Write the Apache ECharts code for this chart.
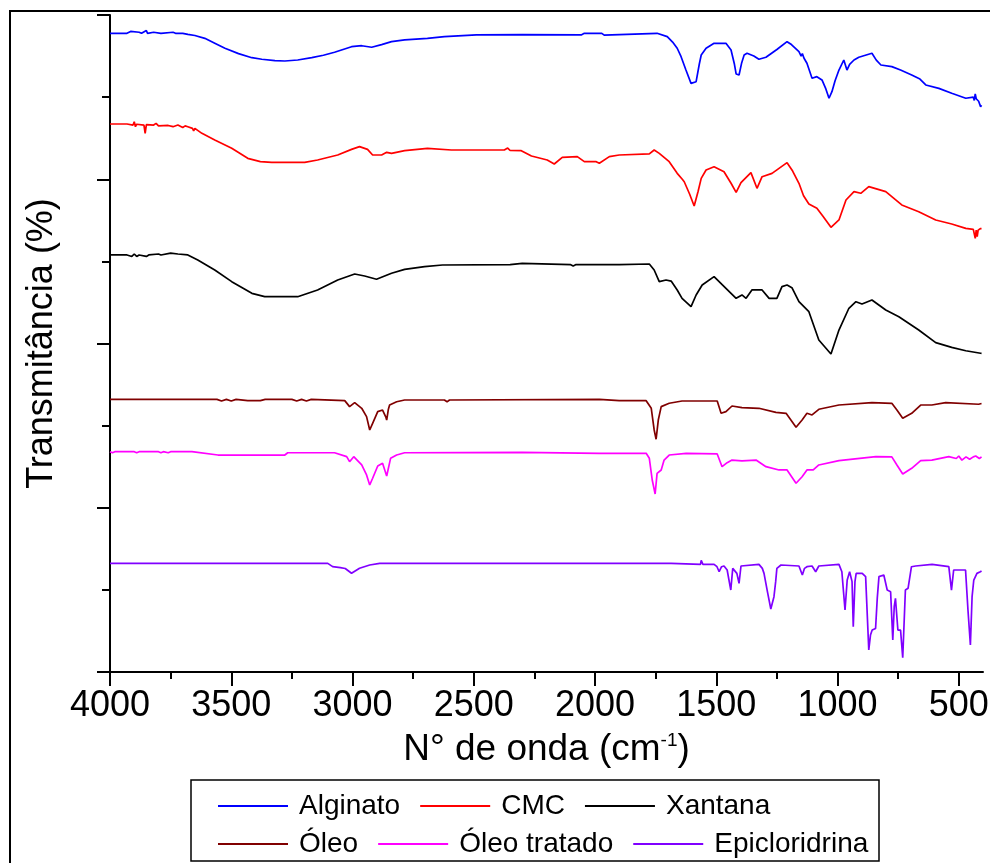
<!DOCTYPE html>
<html>
<head>
<meta charset="utf-8">
<script src="https://cdn.jsdelivr.net/npm/echarts@6/dist/echarts.min.js"></script>
<style>
  html, body { margin: 0; padding: 0; background: #fff; }
  #chart { width: 990px; height: 863px; }
</style>
</head>
<body>
<div id="chart"></div>
<script>
// FTIR spectra, stacked with vertical offsets: [wavenumber (cm-1), transmittance (offset units)]
const seriesNames = ['Alginato', 'CMC', 'Xantana', 'Óleo', 'Óleo tratado', 'Epicloridrina'];

const alginato = [
  [4000, 7.777], [3930, 7.777], [3915, 7.80], [3910, 7.777], [3880, 7.79], [3870, 7.777],
  [3850, 7.81], [3845, 7.777], [3820, 7.79], [3790, 7.777], [3740, 7.79], [3730, 7.777],
  [3700, 7.777], [3679, 7.765], [3650, 7.75], [3609, 7.716], [3570, 7.66], [3526, 7.595],
  [3470, 7.53], [3415, 7.480], [3374, 7.461], [3320, 7.445], [3279, 7.440], [3226, 7.452],
  [3168, 7.480], [3120, 7.51], [3074, 7.546], [3004, 7.614], [2962, 7.626], [2921, 7.607],
  [2880, 7.64], [2839, 7.675], [2785, 7.696], [2691, 7.716], [2621, 7.736], [2489, 7.757],
  [2300, 7.76], [2057, 7.757], [2044, 7.777], [1985, 7.777], [1978, 7.755], [1972, 7.777],
  [1962, 7.755], [1955, 7.777], [1744, 7.777], [1702, 7.736], [1680, 7.67], [1661, 7.595],
  [1645, 7.492], [1625, 7.33], [1604, 7.168], [1583, 7.188], [1570, 7.40], [1562, 7.513],
  [1542, 7.595], [1509, 7.655], [1460, 7.655], [1439, 7.574], [1425, 7.40], [1418, 7.282],
  [1406, 7.269], [1395, 7.42], [1385, 7.513], [1373, 7.534], [1345, 7.50], [1324, 7.461],
  [1295, 7.485], [1250, 7.58], [1208, 7.675], [1190, 7.64], [1159, 7.553], [1150, 7.50],
  [1145, 7.53], [1138, 7.473], [1126, 7.412], [1105, 7.229], [1085, 7.249], [1064, 7.209],
  [1048, 7.10], [1035, 6.986], [1023, 7.066], [1010, 7.20], [994, 7.330], [974, 7.452],
  [961, 7.330], [950, 7.40], [932, 7.452], [912, 7.485], [858, 7.534], [840, 7.45],
  [821, 7.391], [776, 7.371], [740, 7.33], [694, 7.269], [660, 7.22], [636, 7.148],
  [582, 7.107], [529, 7.047], [471, 6.986], [440, 7.00], [436, 6.96], [432, 7.04],
  [428, 6.98], [418, 6.95], [410, 6.884], [406, 6.90]
];

const cmc = [
  [4000, 6.673], [3930, 6.673], [3905, 6.66], [3900, 6.70], [3895, 6.64], [3890, 6.67],
  [3860, 6.66], [3855, 6.56], [3850, 6.665], [3820, 6.66], [3810, 6.68], [3800, 6.65],
  [3760, 6.655], [3740, 6.64], [3720, 6.66], [3700, 6.63], [3690, 6.65], [3679, 6.640],
  [3660, 6.62], [3655, 6.59], [3650, 6.62], [3621, 6.559], [3568, 6.478], [3498, 6.377],
  [3432, 6.255], [3380, 6.215], [3333, 6.206], [3197, 6.206], [3144, 6.234], [3061, 6.295],
  [3004, 6.364], [2971, 6.397], [2938, 6.364], [2917, 6.295], [2880, 6.295], [2859, 6.328],
  [2839, 6.315], [2785, 6.348], [2691, 6.377], [2592, 6.356], [2374, 6.356], [2360, 6.38],
  [2350, 6.35], [2304, 6.348], [2262, 6.283], [2197, 6.234], [2168, 6.186], [2135, 6.267],
  [2073, 6.275], [2044, 6.214], [1995, 6.214], [1982, 6.194], [1941, 6.275], [1900, 6.295],
  [1776, 6.308], [1756, 6.356], [1735, 6.315], [1694, 6.214], [1661, 6.072], [1640, 6.00],
  [1632, 5.970], [1610, 5.82], [1591, 5.674], [1575, 5.85], [1562, 6.011], [1542, 6.113],
  [1509, 6.153], [1468, 6.092], [1439, 5.951], [1418, 5.841], [1398, 5.958], [1357, 6.080],
  [1332, 5.890], [1311, 6.031], [1270, 6.072], [1208, 6.202], [1185, 6.10], [1159, 5.951],
  [1140, 5.80], [1118, 5.699], [1085, 5.646], [1060, 5.55], [1027, 5.415], [994, 5.504],
  [965, 5.747], [932, 5.849], [904, 5.829], [871, 5.910], [801, 5.849], [735, 5.687],
  [665, 5.605], [595, 5.504], [529, 5.455], [471, 5.402], [440, 5.39], [432, 5.28],
  [428, 5.38], [424, 5.30], [420, 5.38], [410, 5.40], [406, 5.40]
];

const xantana = [
  [4000, 5.078], [3930, 5.078], [3910, 5.06], [3900, 5.09], [3890, 5.06], [3880, 5.078],
  [3850, 5.06], [3840, 5.078], [3800, 5.09], [3790, 5.078], [3750, 5.10], [3745, 5.078],
  [3720, 5.09], [3679, 5.078], [3638, 5.017], [3568, 4.895], [3498, 4.753], [3415, 4.611],
  [3362, 4.570], [3226, 4.570], [3144, 4.652], [3061, 4.773], [2991, 4.846], [2950, 4.822],
  [2901, 4.782], [2839, 4.855], [2785, 4.903], [2703, 4.935], [2629, 4.956], [2350, 4.96],
  [2300, 4.975], [2295, 4.96], [2100, 4.96], [2090, 4.945], [2080, 4.96], [1900, 4.96],
  [1776, 4.968], [1756, 4.895], [1735, 4.753], [1707, 4.773], [1686, 4.76], [1661, 4.652],
  [1641, 4.550], [1604, 4.448], [1583, 4.591], [1558, 4.712], [1509, 4.814], [1460, 4.672],
  [1418, 4.550], [1394, 4.591], [1377, 4.550], [1353, 4.652], [1311, 4.652], [1282, 4.550],
  [1250, 4.550], [1229, 4.692], [1208, 4.712], [1188, 4.68], [1159, 4.509], [1118, 4.387],
  [1077, 4.043], [1027, 3.872], [994, 4.164], [953, 4.429], [924, 4.509], [899, 4.481],
  [858, 4.530], [801, 4.408], [747, 4.326], [665, 4.164], [595, 4.010], [529, 3.953],
  [471, 3.912], [410, 3.881], [406, 3.88]
];

const oleo = [
  [4000, 3.320], [3559, 3.320], [3540, 3.30], [3520, 3.320], [3500, 3.30], [3480, 3.320],
  [3432, 3.304], [3380, 3.304], [3360, 3.320], [3250, 3.320], [3230, 3.30], [3210, 3.320],
  [3190, 3.30], [3170, 3.320], [3032, 3.304], [3012, 3.231], [2991, 3.280], [2962, 3.211],
  [2942, 3.109], [2929, 2.947], [2917, 3.028], [2896, 3.170], [2876, 3.190], [2862, 3.10],
  [2859, 3.068], [2852, 3.20], [2847, 3.251], [2818, 3.291], [2785, 3.312], [2621, 3.312],
  [2610, 3.29], [2600, 3.312], [1982, 3.320], [1900, 3.304], [1789, 3.304], [1768, 3.211],
  [1756, 2.947], [1748, 2.834], [1739, 3.068], [1727, 3.231], [1694, 3.272], [1641, 3.300],
  [1496, 3.300], [1480, 3.150], [1460, 3.170], [1435, 3.239], [1394, 3.22], [1324, 3.211],
  [1254, 3.162], [1212, 3.150], [1190, 3.06], [1171, 2.980], [1146, 3.068], [1126, 3.150],
  [1105, 3.13], [1077, 3.199], [994, 3.251], [858, 3.280], [776, 3.272], [755, 3.190],
  [731, 3.089], [694, 3.150], [657, 3.251], [611, 3.251], [554, 3.280], [418, 3.260],
  [406, 3.27]
];

const oleoTratado = [
  [4000, 2.683], [3990, 2.67], [3980, 2.683], [3900, 2.683], [3890, 2.67], [3880, 2.683],
  [3800, 2.683], [3790, 2.67], [3780, 2.683], [3760, 2.67], [3750, 2.683], [3662, 2.683],
  [3555, 2.642], [3279, 2.642], [3267, 2.670], [3074, 2.670], [3024, 2.622], [3012, 2.561],
  [2995, 2.622], [2962, 2.521], [2942, 2.399], [2929, 2.277], [2917, 2.359], [2896, 2.508],
  [2876, 2.541], [2859, 2.387], [2843, 2.602], [2818, 2.642], [2785, 2.670], [2300, 2.675],
  [1982, 2.663], [1789, 2.663], [1776, 2.602], [1764, 2.338], [1752, 2.167], [1744, 2.419],
  [1727, 2.460], [1715, 2.581], [1694, 2.642], [1624, 2.663], [1496, 2.655], [1476, 2.500],
  [1455, 2.549], [1435, 2.581], [1394, 2.57], [1336, 2.581], [1295, 2.500], [1241, 2.460],
  [1208, 2.460], [1171, 2.298], [1146, 2.378], [1126, 2.460], [1100, 2.46], [1077, 2.521],
  [994, 2.573], [842, 2.622], [776, 2.62], [755, 2.521], [731, 2.411], [694, 2.480],
  [657, 2.573], [611, 2.58], [541, 2.622], [510, 2.60], [500, 2.63], [487, 2.58],
  [470, 2.62], [455, 2.59], [440, 2.62], [430, 2.630], [415, 2.60], [406, 2.62]
];

const epicloridrina = [
  [4000, 1.323], [3860, 1.323], [3856, 1.30], [3852, 1.323], [3102, 1.323], [3082, 1.283],
  [3050, 1.27], [3030, 1.26], [3004, 1.202], [2971, 1.263], [2929, 1.303], [2888, 1.323],
  [1686, 1.323], [1680, 1.311], [1565, 1.311], [1562, 1.36], [1555, 1.311], [1509, 1.311],
  [1497, 1.282], [1488, 1.221], [1478, 1.282], [1468, 1.291], [1455, 1.242], [1440, 0.998],
  [1432, 1.262], [1427, 1.282], [1415, 1.201], [1406, 1.080], [1398, 1.291], [1394, 1.311],
  [1324, 1.311], [1310, 1.262], [1303, 1.201], [1289, 0.978], [1275, 0.767], [1262, 0.917],
  [1255, 1.10], [1250, 1.262], [1233, 1.303], [1159, 1.291], [1145, 1.181], [1136, 1.262],
  [1126, 1.282], [1105, 1.291], [1090, 1.221], [1077, 1.291], [994, 1.311], [982, 1.221],
  [969, 0.755], [960, 1.120], [950, 1.221], [940, 1.10], [935, 0.552], [928, 1.10],
  [923, 1.201], [898, 1.201], [884, 1.161], [871, 0.268], [864, 0.45], [857, 0.511],
  [843, 0.530], [836, 0.90], [829, 1.161], [809, 1.181], [795, 0.998], [781, 0.978],
  [772, 0.390], [766, 0.80], [761, 0.897], [751, 0.511], [740, 0.511], [731, 0.174],
  [724, 0.70], [720, 0.998], [709, 1.019], [695, 1.282], [678, 1.291], [610, 1.311],
  [541, 1.282], [530, 0.998], [521, 1.242], [472, 1.242], [462, 0.755], [452, 0.329],
  [445, 0.917], [438, 1.120], [425, 1.201], [411, 1.221], [406, 1.23]
];

// Tick positions on the wavenumber axis
const majorTicks = [500, 1000, 1500, 2000, 2500, 3000, 3500, 4000];
const minorTicks = [750, 1250, 1750, 2250, 2750, 3250, 3750];

const seriesData = [alginato, cmc, xantana, oleo, oleoTratado, epicloridrina];
const seriesColors = ['#0000ff', '#ff0000', '#000000', '#800000', '#ff00ff', '#8000ff'];

const FONT = 'Liberation Sans, Arial, sans-serif';
const gridRect = { left: 110, top: 15, width: 873, height: 657, containLabel: false, outerBoundsMode: 'none' };

// Two legend rows sharing one framed box
const legendRow = (names, top) => ({
  data: names,
  left: 218,
  top: top,
  orient: 'horizontal',
  icon: 'rect',
  itemWidth: 70,
  itemHeight: 2,
  itemGap: 20,
  padding: 0,
  textStyle: { fontFamily: FONT, fontSize: 28, color: '#000', padding: [0, 0, 0, 6] }
});

const chart = echarts.init(document.getElementById('chart'), null, { renderer: 'canvas' });

chart.setOption({
  animation: false,
  backgroundColor: '#ffffff',
  graphic: [{
    type: 'rect',
    silent: true,
    z: -10,
    shape: { x: 10, y: 11, width: 1100, height: 1000 },
    style: { fill: 'none', stroke: '#000', lineWidth: 2 }
  }, {
    type: 'rect',
    silent: true,
    shape: { x: 191, y: 780, width: 688, height: 81 },
    style: { fill: 'none', stroke: '#000', lineWidth: 1.5 }
  }],
  grid: [
    Object.assign({}, gridRect),
    Object.assign({}, gridRect)
  ],
  xAxis: [{
    type: 'value',
    gridIndex: 0,
    min: 400,
    max: 4000,
    inverse: true,
    name: 'N° de onda (cm{sup|-1})',
    nameLocation: 'middle',
    nameGap: 59,
    nameTextStyle: {
      fontFamily: FONT,
      fontSize: 37,
      color: '#000',
      rich: {
        sup: { fontFamily: FONT, fontSize: 19, color: '#000', verticalAlign: 'top', padding: [0, 0, 15, 0] }
      }
    },
    axisLine: { show: true, lineStyle: { color: '#000', width: 2 } },
    axisTick: { show: true, customValues: majorTicks, length: 14, lineStyle: { color: '#000', width: 2 } },
    axisLabel: {
      show: true,
      customValues: majorTicks,
      formatter: (v) => String(v),
      fontFamily: FONT,
      fontSize: 36,
      color: '#000',
      margin: 16
    },
    splitLine: { show: false }
  }, {
    type: 'value',
    gridIndex: 1,
    min: 400,
    max: 4000,
    inverse: true,
    axisLine: { show: false },
    axisTick: { show: true, customValues: minorTicks, length: 7, lineStyle: { color: '#000', width: 2 } },
    axisLabel: { show: false },
    splitLine: { show: false }
  }],
  yAxis: [{
    type: 'value',
    gridIndex: 0,
    min: 0,
    max: 8,
    interval: 2,
    name: 'Transmitância (%)',
    nameLocation: 'middle',
    nameGap: 50,
    nameTextStyle: { fontFamily: FONT, fontSize: 36, color: '#000' },
    axisLine: { show: true, lineStyle: { color: '#000', width: 2 } },
    axisTick: { show: true, length: 13, lineStyle: { color: '#000', width: 2 } },
    minorTick: { show: true, splitNumber: 2, length: 8, lineStyle: { color: '#000', width: 2 } },
    axisLabel: { show: false },
    splitLine: { show: false },
    minorSplitLine: { show: false }
  }, {
    type: 'value',
    gridIndex: 1,
    min: 0,
    max: 8,
    show: false
  }],
  legend: [
    legendRow(seriesNames.slice(0, 3), 792),
    legendRow(seriesNames.slice(3, 6), 830)
  ],
  series: seriesNames.map((name, i) => ({
    name: name,
    type: 'line',
    xAxisIndex: 0,
    yAxisIndex: 0,
    data: seriesData[i],
    symbol: 'none',
    smooth: false,
    color: seriesColors[i],
    lineStyle: { color: seriesColors[i], width: 1.7 },
    emphasis: { disabled: true }
  }))
});
</script>
</body>
</html>
